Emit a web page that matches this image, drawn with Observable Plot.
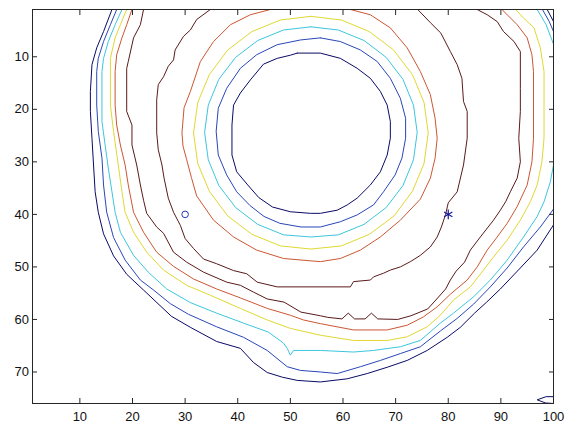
<!DOCTYPE html>
<html>
<head>
<meta charset="utf-8">
<script src="https://cdn.jsdelivr.net/npm/d3@7"></script>
<script src="https://cdn.jsdelivr.net/npm/@observablehq/plot@0.6"></script>
<style>
  html, body { margin: 0; padding: 0; background: #fff; }
  #chart svg { display: block; }
</style>
</head>
<body>
<div id="chart"></div>
<script>
// ---- contour levels (MATLAB jet colours, low -> high) ----
const levelNames = ["L1", "L2", "L3", "L4", "L5", "L6"];
const levelColors = ["#0a0a66", "#2a46b8", "#3cc6de", "#e0d832", "#cc5632", "#5a1a1a"];

// ---- axis ticks ----
const xTicks = [10, 20, 30, 40, 50, 60, 70, 80, 90, 100];
const yTicks = [10, 20, 30, 40, 50, 60, 70];

// ---- markers ----
const markerX = [30, 80];
const markerY = [40, 40];
const markerSymbol = ["circle", "asterisk"];

// ---- contour lines, [x, y] points ----
const innerNavy = [[51.3,9.3],[55.7,9.3],[59.5,10.3],[62.7,12.2],[65.2,14.1],[67.1,16.6],[68.4,19.2],[69.0,22.3],[69.0,25.5],[68.4,28.7],[67.1,31.9],[65.2,34.4],[62.7,36.9],[60.8,38.2],[58.9,39.2],[55.7,39.8],[53.8,39.8],[50.0,39.5],[46.6,38.6],[44.0,36.8],[41.9,34.4],[39.8,31.9],[38.9,28.7],[38.9,23.0],[39.2,19.2],[40.5,16.9],[42.4,14.4],[44.9,11.4],[47.5,10.3],[50.0,9.7],[51.3,9.3]];
const innerBlue = [[55.7,6.4],[59.5,7.1],[63.3,8.7],[66.5,10.9],[69.0,14.1],[70.9,17.9],[71.9,21.7],[71.9,25.5],[71.2,29.3],[69.9,32.5],[67.7,35.7],[65.8,38.2],[62.7,40.1],[59.5,41.4],[55.7,42.4],[52.0,42.4],[48.0,41.7],[45.0,40.4],[42.3,38.3],[39.8,35.7],[37.9,32.5],[36.3,28.7],[35.9,24.2],[36.3,19.8],[37.9,16.0],[40.5,12.2],[43.6,9.6],[47.5,7.7],[51.9,6.8],[55.7,6.4]];
const innerCyan = [[53.9,4.3],[59.1,4.9],[64.0,6.9],[68.2,10.1],[71.4,14.3],[73.4,19.2],[74.1,24.4],[73.4,29.6],[71.4,34.5],[68.2,38.7],[64.0,41.9],[59.1,43.9],[53.9,44.3],[48.7,43.9],[43.8,41.9],[39.6,38.7],[36.4,34.5],[34.4,29.6],[33.7,24.4],[34.4,19.2],[36.4,14.3],[39.6,10.1],[43.8,6.9],[48.7,4.9],[53.9,4.3]];
const innerYellow = [[53.9,2.3],[59.7,3.0],[65.0,5.2],[69.6,8.7],[73.2,13.4],[75.4,18.7],[76.2,24.5],[75.4,30.3],[73.2,35.6],[69.7,40.3],[65.0,43.8],[59.7,46.0],[53.9,46.6],[48.1,46.0],[42.7,43.8],[38.1,40.3],[34.6,35.6],[32.4,30.3],[31.6,24.5],[32.4,18.7],[34.6,13.4],[38.1,8.7],[42.7,5.2],[48.1,3.0],[53.9,2.3]];
const innerRed = [[46.2,1.0],[42.4,2.0],[38.6,3.9],[35.4,7.1],[32.9,10.9],[31.0,16.6],[29.8,19.7],[29.4,24.5],[29.6,27.0],[30.3,29.6],[31.2,33.0],[32.2,36.5],[35.4,41.1],[39.2,44.3],[43.6,46.8],[48.7,48.4],[55.7,49.0],[59.5,48.4],[63.3,46.8],[67.1,44.3],[70.9,41.1],[74.7,37.1],[76.6,33.1],[77.5,29.3],[77.9,25.5],[77.5,21.7],[76.6,17.2],[74.7,12.8],[72.2,8.3],[69.0,4.5],[65.2,2.0],[61.4,1.0]];
const innerMaroon = [[34.8,1.0],[32.2,2.9],[31.0,4.9],[29.7,6.1],[28.1,8.7],[27.8,10.6],[26.8,11.8],[25.9,13.8],[24.9,15.3],[24.6,18.2],[24.6,24.5],[24.9,27.7],[25.6,30.6],[26.0,33.1],[26.8,36.9],[27.8,39.6],[29.1,42.1],[30.0,44.6],[31.6,46.5],[33.5,48.5],[36.0,49.4],[39.2,50.7],[41.7,51.3],[43.7,52.9],[47.5,53.8],[61.4,53.8],[62.0,52.8],[65.2,52.5],[65.8,51.9],[67.7,51.2],[69.0,50.6],[70.9,50.0],[72.8,49.0],[74.7,47.8],[76.6,46.2],[77.9,44.3],[78.7,42.4],[79.5,40.0],[80.0,37.8],[81.7,35.7],[82.9,30.6],[83.6,25.5],[83.6,20.4],[82.9,18.5],[82.6,14.1],[81.7,11.5],[80.4,9.0],[78.6,5.5],[76.7,3.6],[74.2,1.0]];
const outerMaroon = [[22.1,1.0],[21.5,3.9],[20.2,6.4],[19.2,10.9],[18.9,12.2],[18.9,20.4],[19.9,23.0],[19.9,26.8],[20.8,30.6],[21.5,34.4],[22.1,37.3],[22.7,39.8],[24.6,42.4],[25.9,43.6],[27.8,47.2],[30.3,49.1],[33.5,51.0],[37.9,52.9],[40.5,53.5],[43.0,54.8],[45.6,56.1],[48.8,56.7],[52.0,58.6],[55.7,59.3],[57.1,59.6],[59.8,59.9],[61.0,58.8],[62.2,59.9],[64.2,59.9],[65.4,58.8],[66.6,59.9],[70.4,60.0],[72.9,59.3],[76.1,58.0],[78.0,55.9],[79.5,54.2],[80.4,52.5],[81.5,50.8],[83.1,49.1],[84.2,46.8],[86.1,44.3],[88.6,41.1],[89.9,39.2],[90.9,37.6],[91.8,35.7],[93.1,33.1],[93.7,30.0],[93.4,25.5],[93.7,20.4],[93.7,16.0],[93.7,9.0],[92.5,7.1],[90.5,5.2],[89.3,3.3],[87.4,2.0],[85.5,1.0]];
const outerRed = [[19.9,1.0],[18.9,3.9],[18.0,6.4],[17.0,9.6],[16.7,12.8],[16.7,19.2],[17.0,23.0],[17.7,26.8],[18.6,30.6],[19.2,34.4],[20.2,39.6],[22.1,43.4],[24.6,47.2],[27.8,49.9],[31.6,52.3],[36.0,54.2],[40.5,55.9],[45.6,57.9],[50.0,59.2],[52.5,60.1],[55.7,60.8],[62.0,62.0],[68.4,62.0],[72.2,61.1],[75.3,59.5],[77.9,57.6],[80.4,55.2],[83.6,52.5],[85.5,50.0],[87.4,46.8],[89.3,44.3],[91.2,41.7],[93.1,38.5],[95.0,34.4],[95.9,30.0],[96.2,25.5],[96.2,12.8],[95.9,9.6],[95.0,6.4],[93.1,3.9],[91.2,2.0],[90.2,1.0]];
const outerYellow = [[18.9,1.0],[17.7,3.9],[16.7,6.4],[15.8,10.3],[15.8,19.2],[16.4,24.2],[17.3,30.6],[18.0,35.7],[18.6,39.6],[20.2,43.4],[22.7,47.2],[25.9,50.6],[30.3,53.5],[34.8,55.4],[40.5,57.9],[45.6,60.1],[50.0,61.7],[55.7,63.0],[62.0,64.0],[68.4,64.0],[72.2,63.3],[76.0,61.4],[78.5,59.2],[81.0,56.3],[84.2,53.8],[86.7,50.6],[88.6,48.1],[91.2,44.9],[93.7,41.1],[95.6,37.6],[96.9,34.4],[97.8,30.0],[98.2,25.5],[98.2,12.8],[97.5,8.3],[96.3,4.5],[94.3,2.6],[92.8,1.0]];
const outerCyan = [[18.0,1.0],[16.7,3.9],[15.4,7.1],[14.5,10.3],[14.2,12.8],[14.2,22.3],[14.8,26.8],[15.4,31.2],[16.1,35.7],[16.7,39.6],[17.7,43.4],[20.2,47.8],[23.0,51.0],[26.5,54.2],[31.0,56.8],[36.0,58.8],[41.1,60.7],[45.8,62.4],[48.7,64.5],[49.4,65.5],[50.0,66.8],[50.6,65.9],[55.7,65.9],[62.0,66.2],[65.8,65.9],[70.9,65.2],[74.7,64.0],[78.5,60.7],[81.0,58.8],[84.8,55.7],[88.0,52.5],[91.2,48.7],[94.3,44.3],[96.9,40.4],[98.2,37.6],[99.4,33.8],[100,30.6]];
const outerBlue = [[17.0,1.0],[15.8,3.9],[14.5,7.1],[13.5,10.3],[13.2,12.8],[13.2,19.2],[13.5,24.2],[14.2,29.3],[14.5,34.4],[15.1,39.6],[16.4,44.4],[18.6,48.7],[21.5,52.5],[24.0,54.4],[27.2,57.0],[30.6,59.0],[36.0,61.4],[41.1,63.4],[45.6,65.9],[49.4,69.0],[51.9,69.7],[55.7,70.0],[58.9,70.3],[63.3,69.0],[67.1,67.8],[70.9,66.5],[74.7,65.2],[78.5,62.2],[81.7,59.8],[84.8,57.1],[88.0,53.8],[91.2,50.2],[94.3,46.2],[97.5,42.4],[100,39.0]];
const outerNavy = [[16.1,1.0],[14.5,5.2],[13.2,8.3],[12.3,11.5],[12.0,16.6],[12.0,20.4],[12.3,25.5],[12.6,30.6],[12.9,35.7],[13.5,39.6],[14.5,43.7],[16.4,47.9],[18.9,51.4],[22.1,54.4],[23.9,56.1],[27.4,59.4],[31.0,61.5],[36.0,64.2],[40.5,65.5],[43.0,68.2],[45.6,70.1],[48.5,71.0],[51.3,71.6],[55.7,71.9],[60.8,71.3],[64.6,70.3],[68.4,69.1],[72.2,67.8],[76.0,65.9],[79.8,63.4],[82.3,61.5],[85.0,58.8],[87.3,56.7],[89.9,54.2],[93.7,50.2],[96.9,46.8],[100,42.0]];
const cyanCorner = [[96.9,1.0],[98.6,3.9],[100,7.6]];
const blueCorner = [[97.9,1.0],[99.2,3.3],[100,5.2]];
const navyCorner = [[98.8,1.0],[100,3.3]];
const navyBottomCorner = [[100,74.7],[98.6,74.7],[96.9,75.3],[98.5,75.9],[100,76.0]];

const contours = [
  {level: "L1", points: innerNavy},
  {level: "L2", points: innerBlue},
  {level: "L3", points: innerCyan},
  {level: "L4", points: innerYellow},
  {level: "L5", points: innerRed},
  {level: "L6", points: innerMaroon},
  {level: "L6", points: outerMaroon},
  {level: "L5", points: outerRed},
  {level: "L4", points: outerYellow},
  {level: "L3", points: outerCyan},
  {level: "L2", points: outerBlue},
  {level: "L1", points: outerNavy},
  {level: "L3", points: cyanCorner},
  {level: "L2", points: blueCorner},
  {level: "L1", points: navyCorner},
  {level: "L1", points: navyBottomCorner}
];

const rows = [];
contours.forEach((c, i) => c.points.forEach(([x, y]) => rows.push({x, y, level: c.level, id: i})));
const markers = markerX.map((x, i) => ({x, y: markerY[i], symbol: markerSymbol[i]}));

const axisColor = "#262626";
const chart = Plot.plot({
  width: 568,
  height: 424,
  marginLeft: 32,
  marginRight: 15,
  marginTop: 9,
  marginBottom: 21,
  style: {fontFamily: "'Liberation Sans', Arial, sans-serif", fontSize: "13px", color: axisColor, background: "#fff"},
  x: {domain: [1, 100], axis: null, label: null},
  y: {domain: [1, 76], reverse: true, axis: null, label: null},
  color: {type: "ordinal", domain: levelNames, range: levelColors},
  marks: [
    Plot.line(rows, {x: "x", y: "y", z: "id", stroke: "level", strokeWidth: 1, clip: true}),
    Plot.dot(markers.filter(d => d.symbol === "circle"), {x: "x", y: "y", symbol: "circle", r: 3.3, stroke: "#2433c0", strokeWidth: 1, fill: "none"}),
    Plot.dot(markers.filter(d => d.symbol === "asterisk"), {x: "x", y: "y", symbol: "asterisk", r: 4.5, stroke: "#1a1a9a", strokeWidth: 1.2}),
    Plot.frame({stroke: axisColor, strokeWidth: 1}),
    Plot.axisX({anchor: "bottom", ticks: xTicks, tickSize: -5, tickPadding: 13.5, fontSize: 13, label: null, stroke: axisColor, fill: "#111"}),
    Plot.axisX({anchor: "top", ticks: xTicks, tickSize: -5, tickFormat: () => "", label: null, stroke: axisColor}),
    Plot.axisY({anchor: "left", ticks: yTicks, tickSize: -5, tickPadding: 8.5, fontSize: 13, label: null, stroke: axisColor, fill: "#111"}),
    Plot.axisY({anchor: "right", ticks: yTicks, tickSize: -5, tickFormat: () => "", label: null, stroke: axisColor})
  ]
});
document.getElementById("chart").appendChild(chart);
</script>
</body>
</html>
